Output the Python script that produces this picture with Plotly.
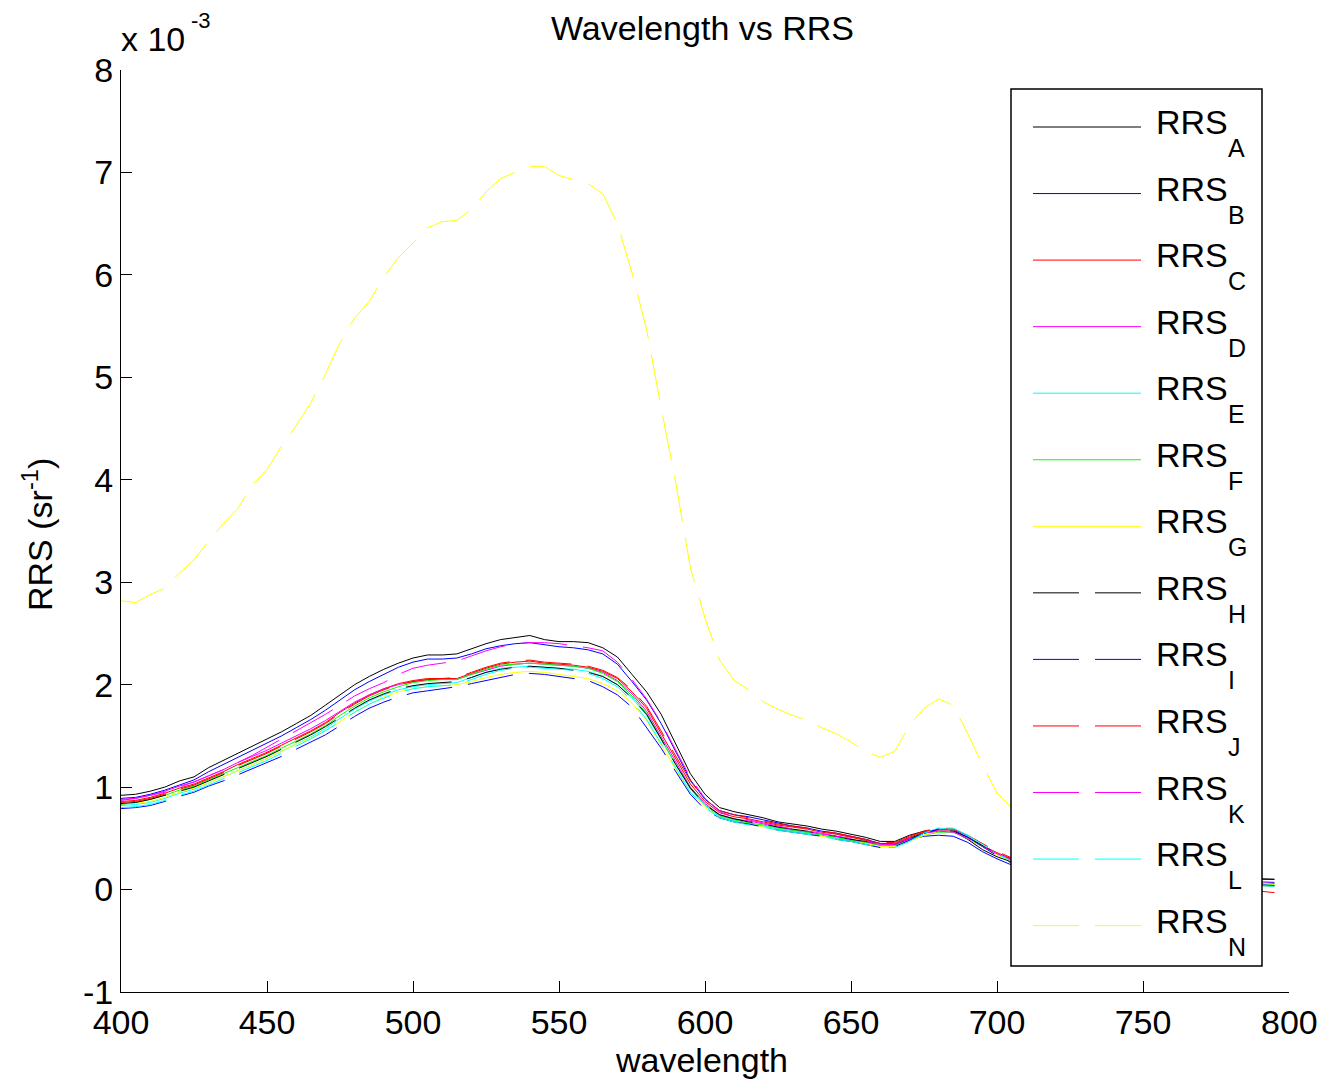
import plotly.graph_objects as go

# ---------------- data (RRS values in units of 1e-3 sr^-1) ----------------
wavelength = [400, 405, 410, 415, 420, 425, 430, 435, 440, 445,
              450, 455, 460, 465, 470, 475, 480, 485, 490, 495,
              500, 505, 510, 515, 520, 525, 530, 535, 540, 545,
              550, 555, 560, 565, 570, 575, 580, 585, 590, 595,
              600, 605, 610, 615, 620, 625, 630, 635, 640, 645,
              650, 655, 660, 665, 670, 675, 680, 685, 690, 695,
              700, 705, 715, 730, 750, 770, 785, 795]

rrs_A = [0.92, 0.93, 0.96, 1.00, 1.06, 1.10, 1.19, 1.26, 1.33, 1.40,
         1.47, 1.54, 1.62, 1.70, 1.80, 1.90, 2.00, 2.08, 2.15, 2.21,
         2.26, 2.29, 2.29, 2.30, 2.35, 2.40, 2.44, 2.46, 2.48, 2.44,
         2.42, 2.42, 2.41, 2.36, 2.27, 2.10, 1.93, 1.71, 1.42, 1.13,
         0.93, 0.80, 0.76, 0.73, 0.70, 0.66, 0.64, 0.62, 0.59, 0.57,
         0.54, 0.51, 0.47, 0.47, 0.53, 0.57, 0.58, 0.57, 0.49, 0.39,
         0.32, 0.27, 0.22, 0.17, 0.14, 0.12, 0.11, 0.10]
rrs_B = [0.89, 0.90, 0.93, 0.97, 1.02, 1.07, 1.15, 1.22, 1.29, 1.36,
         1.43, 1.50, 1.58, 1.66, 1.75, 1.85, 1.95, 2.03, 2.10, 2.17,
         2.22, 2.25, 2.25, 2.26, 2.30, 2.35, 2.38, 2.40, 2.41, 2.39,
         2.37, 2.36, 2.34, 2.30, 2.20, 2.03, 1.85, 1.62, 1.34, 1.07,
         0.88, 0.77, 0.73, 0.71, 0.68, 0.65, 0.62, 0.60, 0.57, 0.55,
         0.52, 0.49, 0.45, 0.44, 0.49, 0.52, 0.53, 0.52, 0.46, 0.37,
         0.30, 0.24, 0.19, 0.14, 0.11, 0.09, 0.08, 0.07]
rrs_C = [0.86, 0.87, 0.90, 0.94, 0.99, 1.03, 1.09, 1.15, 1.22, 1.28,
         1.34, 1.41, 1.48, 1.55, 1.63, 1.73, 1.82, 1.90, 1.96, 2.01,
         2.04, 2.06, 2.06, 2.06, 2.11, 2.16, 2.20, 2.22, 2.23, 2.21,
         2.20, 2.19, 2.17, 2.13, 2.06, 1.93, 1.77, 1.52, 1.27, 1.03,
         0.86, 0.75, 0.71, 0.69, 0.66, 0.63, 0.61, 0.59, 0.56, 0.54,
         0.51, 0.48, 0.45, 0.45, 0.51, 0.56, 0.59, 0.58, 0.51, 0.43,
         0.36, 0.30, 0.24, 0.17, 0.12, 0.08, 0.05, 0.03]
rrs_D = [0.87, 0.89, 0.92, 0.96, 1.01, 1.05, 1.11, 1.17, 1.24, 1.30,
         1.36, 1.43, 1.50, 1.57, 1.65, 1.74, 1.83, 1.90, 1.96, 2.00,
         2.03, 2.05, 2.05, 2.05, 2.10, 2.14, 2.18, 2.20, 2.21, 2.20,
         2.19, 2.18, 2.16, 2.12, 2.04, 1.91, 1.74, 1.49, 1.24, 1.00,
         0.84, 0.73, 0.69, 0.67, 0.64, 0.61, 0.58, 0.56, 0.54, 0.52,
         0.49, 0.46, 0.43, 0.43, 0.49, 0.55, 0.58, 0.57, 0.50, 0.42,
         0.35, 0.29, 0.22, 0.16, 0.12, 0.09, 0.07, 0.06]
rrs_E = [0.82, 0.83, 0.85, 0.89, 0.94, 0.98, 1.04, 1.10, 1.16, 1.22,
         1.28, 1.35, 1.42, 1.49, 1.57, 1.67, 1.76, 1.84, 1.90, 1.95,
         1.98, 2.00, 2.01, 2.02, 2.07, 2.12, 2.16, 2.17, 2.18, 2.17,
         2.16, 2.15, 2.13, 2.08, 2.00, 1.87, 1.70, 1.46, 1.21, 0.98,
         0.82, 0.71, 0.67, 0.64, 0.62, 0.59, 0.57, 0.55, 0.53, 0.50,
         0.48, 0.45, 0.42, 0.42, 0.48, 0.55, 0.60, 0.59, 0.52, 0.43,
         0.35, 0.28, 0.22, 0.15, 0.10, 0.07, 0.05, 0.04]
rrs_F = [0.83, 0.85, 0.88, 0.92, 0.97, 1.01, 1.07, 1.13, 1.19, 1.25,
         1.31, 1.38, 1.45, 1.52, 1.60, 1.70, 1.79, 1.87, 1.93, 1.98,
         2.02, 2.04, 2.05, 2.05, 2.10, 2.15, 2.19, 2.20, 2.21, 2.20,
         2.19, 2.18, 2.16, 2.11, 2.03, 1.89, 1.72, 1.47, 1.22, 0.99,
         0.83, 0.72, 0.68, 0.65, 0.63, 0.60, 0.58, 0.56, 0.53, 0.51,
         0.48, 0.46, 0.43, 0.43, 0.48, 0.53, 0.56, 0.56, 0.50, 0.42,
         0.34, 0.28, 0.22, 0.15, 0.11, 0.08, 0.06, 0.05]
rrs_G = [0.84, 0.84, 0.86, 0.90, 0.95, 0.99, 1.04, 1.10, 1.16, 1.22,
         1.28, 1.35, 1.42, 1.48, 1.55, 1.64, 1.73, 1.81, 1.88, 1.93,
         1.96, 1.98, 1.99, 2.00, 2.03, 2.07, 2.10, 2.12, 2.13, 2.12,
         2.10, 2.08, 2.06, 2.01, 1.94, 1.82, 1.65, 1.41, 1.17, 0.95,
         0.80, 0.70, 0.66, 0.64, 0.61, 0.58, 0.56, 0.54, 0.52, 0.49,
         0.47, 0.45, 0.42, 0.42, 0.47, 0.53, 0.57, 0.57, 0.50, 0.42,
         0.34, 0.28, 0.22, 0.15, 0.10, 0.07, 0.05, 0.03]
rrs_H = [0.84, 0.85, 0.88, 0.92, 0.96, 1.00, 1.06, 1.12, 1.18, 1.24,
         1.30, 1.37, 1.44, 1.51, 1.59, 1.68, 1.77, 1.85, 1.91, 1.96,
         1.99, 2.01, 2.02, 2.03, 2.07, 2.12, 2.15, 2.17, 2.18, 2.17,
         2.16, 2.14, 2.12, 2.08, 2.00, 1.87, 1.71, 1.47, 1.22, 0.99,
         0.83, 0.73, 0.69, 0.66, 0.64, 0.61, 0.59, 0.57, 0.54, 0.52,
         0.49, 0.47, 0.44, 0.44, 0.50, 0.55, 0.58, 0.57, 0.51, 0.43,
         0.35, 0.29, 0.23, 0.17, 0.13, 0.11, 0.10, 0.10]
rrs_I = [0.79, 0.80, 0.82, 0.86, 0.91, 0.95, 1.01, 1.06, 1.12, 1.18,
         1.24, 1.30, 1.37, 1.44, 1.51, 1.60, 1.69, 1.77, 1.83, 1.88,
         1.92, 1.94, 1.96, 1.98, 2.01, 2.04, 2.07, 2.10, 2.11, 2.10,
         2.08, 2.06, 2.04, 1.98, 1.90, 1.78, 1.58, 1.38, 1.15, 0.93,
         0.78, 0.70, 0.66, 0.64, 0.61, 0.58, 0.56, 0.54, 0.52, 0.49,
         0.47, 0.44, 0.41, 0.42, 0.48, 0.55, 0.59, 0.58, 0.51, 0.42,
         0.33, 0.26, 0.20, 0.14, 0.10, 0.07, 0.05, 0.04]
rrs_J = [0.85, 0.86, 0.89, 0.93, 0.98, 1.02, 1.08, 1.14, 1.21, 1.27,
         1.33, 1.40, 1.47, 1.54, 1.62, 1.72, 1.81, 1.89, 1.95, 2.00,
         2.03, 2.05, 2.06, 2.07, 2.12, 2.17, 2.21, 2.23, 2.24, 2.22,
         2.21, 2.20, 2.18, 2.14, 2.07, 1.95, 1.79, 1.55, 1.30, 1.06,
         0.88, 0.77, 0.73, 0.70, 0.67, 0.64, 0.62, 0.60, 0.57, 0.55,
         0.52, 0.49, 0.46, 0.46, 0.52, 0.57, 0.60, 0.59, 0.53, 0.45,
         0.37, 0.31, 0.24, 0.16, 0.10, 0.04, 0.00, -0.03]
rrs_K = [0.88, 0.89, 0.92, 0.95, 1.00, 1.05, 1.11, 1.17, 1.24, 1.31,
         1.39, 1.47, 1.55, 1.63, 1.71, 1.80, 1.89, 1.96, 2.02, 2.10,
         2.16, 2.19, 2.21, 2.23, 2.28, 2.33, 2.37, 2.40, 2.41, 2.41,
         2.40, 2.38, 2.36, 2.33, 2.22, 2.05, 1.86, 1.63, 1.36, 1.09,
         0.89, 0.76, 0.71, 0.68, 0.65, 0.62, 0.59, 0.57, 0.55, 0.52,
         0.50, 0.47, 0.44, 0.44, 0.50, 0.55, 0.57, 0.56, 0.50, 0.42,
         0.35, 0.29, 0.23, 0.16, 0.11, 0.08, 0.06, 0.06]
rrs_L = [0.80, 0.81, 0.83, 0.87, 0.92, 0.96, 1.02, 1.08, 1.14, 1.20,
         1.26, 1.33, 1.40, 1.47, 1.55, 1.64, 1.73, 1.81, 1.87, 1.92,
         1.96, 1.98, 1.99, 2.00, 2.05, 2.10, 2.14, 2.16, 2.17, 2.16,
         2.15, 2.14, 2.11, 2.06, 1.98, 1.84, 1.66, 1.42, 1.18, 0.95,
         0.80, 0.70, 0.66, 0.63, 0.61, 0.58, 0.56, 0.54, 0.52, 0.49,
         0.47, 0.44, 0.41, 0.41, 0.47, 0.55, 0.60, 0.60, 0.53, 0.44,
         0.35, 0.28, 0.21, 0.14, 0.10, 0.07, 0.05, 0.03]
rrs_N = [2.82, 2.80, 2.88, 2.94, 3.09, 3.22, 3.40, 3.57, 3.72, 3.95,
         4.10, 4.33, 4.53, 4.75, 5.03, 5.34, 5.58, 5.74, 5.98, 6.17,
         6.31, 6.46, 6.52, 6.53, 6.64, 6.81, 6.94, 7.00, 7.06, 7.06,
         6.97, 6.93, 6.89, 6.79, 6.50, 6.02, 5.47, 4.70, 3.97, 3.14,
         2.65, 2.24, 2.04, 1.95, 1.83, 1.76, 1.70, 1.65, 1.58, 1.52,
         1.44, 1.35, 1.29, 1.35, 1.60, 1.77, 1.86, 1.80, 1.52, 1.22,
         0.94, 0.80, 0.58, 0.36, 0.22, 0.13, 0.08, 0.05]

series_names = ["A", "B", "C", "D", "E", "F", "G", "H", "I", "J", "K", "L", "N"]
x_ticks = [400, 450, 500, 550, 600, 650, 700, 750, 800]
x_ticktext = ["400", "450", "500", "550", "600", "650", "700", "750", "800"]
y_ticks = [-1, 0, 1, 2, 3, 4, 5, 6, 7, 8]
y_ticktext = ["-1", "0", "1", "2", "3", "4", "5", "6", "7", "8"]

# ---------------- styling ----------------
series_values = [rrs_A, rrs_B, rrs_C, rrs_D, rrs_E, rrs_F, rrs_G,
                 rrs_H, rrs_I, rrs_J, rrs_K, rrs_L, rrs_N]
colors = ["#000000", "#0000ff", "#ff0000", "#ff00ff", "#00ffff", "#00ff00", "#ffff00",
          "#000000", "#0000ff", "#ff0000", "#ff00ff", "#00ffff", "#ffff00"]
DASH = "46px,16px"
dashes = ["solid"] * 7 + [DASH] * 6

FONT = "Liberation Sans, Arial, Helvetica, sans-serif"
FS = 34
SUB_FS = 25

# The page body has an 8px margin on every side; the figure is made 16px
# smaller so it fits the window, and positions are given in window pixels.
OFF = 8
W, H = 1325 - 2 * OFF, 1087 - 2 * OFF
L, R, T, B = 121, 1289, 70, 992   # plot area in window pixels


def px(xp):
    return (xp - L) / (R - L)


def py(yp):
    return (B - yp) / (B - T)


fig = go.Figure()
for name, vals, col, dsh in zip(series_names, series_values, colors, dashes):
    fig.add_trace(go.Scatter(x=wavelength, y=vals, mode="lines", name="RRS" + name,
                             line=dict(color=col, width=1, dash=dsh),
                             showlegend=False))

shapes = []
annotations = []


def text_ann(x, y, text, size=FS, xanchor="left", angle=0):
    return dict(xref="paper", yref="paper", x=px(x), y=py(y), xanchor=xanchor,
                yanchor="middle", showarrow=False, text=text, textangle=angle,
                font=dict(family=FONT, size=size, color="black"))


# manual MATLAB-style legend
shapes.append(dict(type="rect", xref="paper", yref="paper",
                   x0=px(1011), x1=px(1262), y0=py(966), y1=py(89),
                   fillcolor="white", line=dict(color="black", width=1.5),
                   layer="above"))
y0_leg, step_leg = 127, 66.55
for i, (name, col, dsh) in enumerate(zip(series_names, colors, dashes)):
    yl = y0_leg + i * step_leg
    shapes.append(dict(type="line", xref="paper", yref="paper",
                       x0=px(1033), x1=px(1141), y0=py(yl), y1=py(yl),
                       line=dict(color=col, width=1, dash=dsh), layer="above"))
    annotations.append(text_ann(1154, yl - 5, "RRS"))
    annotations.append(text_ann(1226, yl + 21, name, size=SUB_FS))

# last x tick label, drawn as an annotation so that it is not hidden at the
# figure edge (the axis itself shows the other labels)
annotations.append(dict(xref="x", yref="paper", x=x_ticks[-1], y=py(1022),
                        xanchor="center", yanchor="middle", showarrow=False,
                        text=x_ticktext[-1],
                        font=dict(family=FONT, size=FS, color="black")))
axis_ticktext = x_ticktext[:-1] + [""]

# exponent label
annotations.append(text_ann(119, 39, "x 10"))
annotations.append(text_ann(189, 20, "-3", size=22))
# y axis title
annotations.append(text_ann(37, 535, "RRS (sr<sup>-1</sup>)", xanchor="center", angle=-90))
# x axis title
annotations.append(text_ann(701, 1060, "wavelength", xanchor="center"))
# title
annotations.append(text_ann(702, 28, "Wavelength vs RRS", xanchor="center"))

fig.update_layout(
    width=W, height=H,
    margin=dict(l=L - OFF, r=(W + OFF) - R, t=T - OFF, b=(H + OFF) - B, pad=0),
    paper_bgcolor="white", plot_bgcolor="white",
    font=dict(family=FONT, size=FS, color="black"),
    shapes=shapes, annotations=annotations,
    showlegend=False,
    xaxis=dict(range=[400, 800], tickvals=x_ticks, ticktext=axis_ticktext,
               ticks="inside", ticklen=11,
               tickcolor="black", tickwidth=1, showline=True, linecolor="black",
               linewidth=1, showgrid=False, zeroline=False,
               tickfont=dict(family=FONT, size=FS, color="black")),
    yaxis=dict(range=[-1, 8], tickvals=y_ticks, ticktext=y_ticktext, ticks="inside",
               ticklen=11, tickcolor="black", tickwidth=1, showline=True,
               linecolor="black", linewidth=1, showgrid=False, zeroline=False,
               tickfont=dict(family=FONT, size=FS, color="black")),
)

fig.write_html("out.html", config={"displayModeBar": False})
